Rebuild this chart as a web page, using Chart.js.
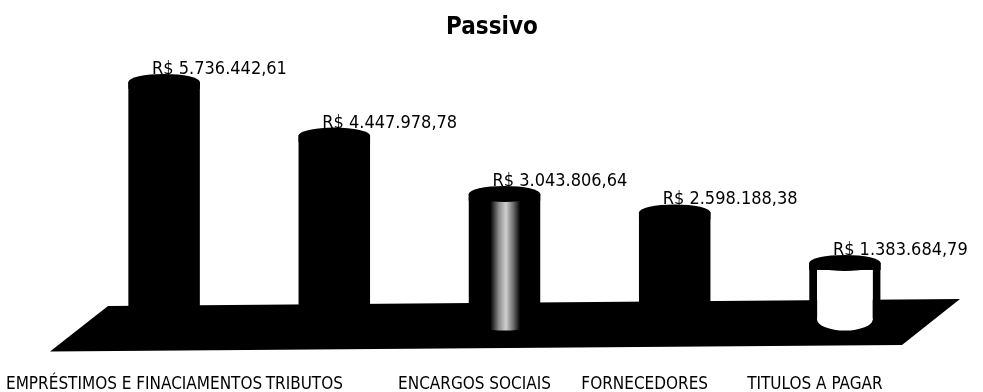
<!DOCTYPE html>
<html lang="pt-BR">
<head>
<meta charset="utf-8">
<title>Passivo</title>
<script src="https://cdn.jsdelivr.net/npm/chart.js@4.4.1/dist/chart.umd.min.js"></script>
<style>
  html, body { margin: 0; padding: 0; background: #fff; }
  #wrap { width: 983px; height: 392px; }
</style>
</head>
<body>
<div id="wrap"><canvas id="passivoChart"></canvas></div>
<script>
// Contas do passivo
const categorias = ["EMPRÉSTIMOS E FINACIAMENTOS", "TRIBUTOS", "ENCARGOS SOCIAIS", "FORNECEDORES", "TITULOS A PAGAR"];
const valores = [5736442.61, 4447978.78, 3043806.64, 2598188.38, 1383684.79];

const FONTE = "'Liberation Sans Narrow', 'DejaVu Sans Condensed', 'Liberation Sans', sans-serif";
const LARGURA_BARRA = 0.42;

// Formata no padrão R$ 1.234.567,89
function formatarReal(v) {
  const [inteiro, centavos] = v.toFixed(2).split(".");
  return "R$ " + inteiro.replace(/\B(?=(\d{3})+(?!\d))/g, ".") + "," + centavos;
}

// Preenchimento de cada cilindro: preto, com brilho no terceiro e branco no último
function corBarra(context) {
  const i = context.dataIndex;
  if (i === 4) return "#ffffff";
  if (i === 2) {
    const x = context.chart.scales.x;
    if (!x || !x.width) return "#000";
    const cx = x.getPixelForValue(i);
    const meia = (x.width / categorias.length) * LARGURA_BARRA / 2;
    const g = context.chart.ctx.createLinearGradient(cx - meia, 0, cx + meia, 0);
    g.addColorStop(0, "#000");
    g.addColorStop(0.3, "#000");
    g.addColorStop(0.42, "#8a8a8a");
    g.addColorStop(0.52, "#d0d0d0");
    g.addColorStop(0.63, "#666");
    g.addColorStop(0.72, "#000");
    g.addColorStop(1, "#000");
    return g;
  }
  return "#000";
}

// Piso em perspectiva, tampas elípticas, rótulos de valor e título
const cilindros = {
  id: "cilindros",
  beforeDatasetsDraw(chart) {
    const { ctx, chartArea: a, scales: { y } } = chart;
    const y0 = y.getPixelForValue(0);
    ctx.save();
    ctx.fillStyle = "#000";
    ctx.beginPath();
    ctx.moveTo(a.left + 29, y0 - 14.5);
    ctx.lineTo(a.right + 30, y0 - 21.5);
    ctx.lineTo(a.right - 28, y0 + 24.5);
    ctx.lineTo(a.left - 29, y0 + 31);
    ctx.closePath();
    ctx.fill();
    ctx.restore();
  },
  afterDatasetsDraw(chart) {
    const { ctx } = chart;
    const meta = chart.getDatasetMeta(0);
    ctx.save();
    meta.data.forEach((bar, i) => {
      const r = bar.width / 2;
      const ry = 8;
      // base arredondada
      ctx.fillStyle = bar.options.backgroundColor;
      ctx.beginPath();
      const rb = i === 4 ? r - 8 : r;
      ctx.ellipse(bar.x, bar.base - 1, rb, ry + 3, 0, 0, Math.PI * 2);
      ctx.fill();
      // tampa
      ctx.fillStyle = "#000";
      ctx.beginPath();
      ctx.ellipse(bar.x, bar.y, r, ry, 0, 0, Math.PI * 2);
      ctx.fill();
      ctx.fillRect(bar.x - r, bar.y, bar.width, 7);
    });
    // valores acima de cada cilindro
    ctx.fillStyle = "#000";
    ctx.font = "18px " + FONTE;
    ctx.textAlign = "left";
    ctx.textBaseline = "alphabetic";
    meta.data.forEach((bar, i) => {
      ctx.fillText(formatarReal(valores[i]), bar.x - 12, bar.y - 8);
    });
    ctx.restore();
  },
  afterDraw(chart) {
    const { ctx } = chart;
    ctx.save();
    ctx.fillStyle = "#000";
    ctx.font = "bold 24px " + FONTE;
    ctx.textAlign = "center";
    ctx.textBaseline = "alphabetic";
    ctx.fillText("Passivo", 492, 34);
    ctx.restore();
  }
};

const config = {
  type: "bar",
  data: {
    labels: categorias,
    datasets: [
      {
        label: "Passivo",
        data: valores,
        backgroundColor: corBarra,
        borderColor: "#000",
        borderWidth: (c) => (c.dataIndex === 4 ? { left: 8, right: 8, top: 0, bottom: 0 } : 0),
        borderSkipped: "start",
        barPercentage: LARGURA_BARRA,
        categoryPercentage: 1,
      },
    ],
  },
  options: {
    responsive: true,
    maintainAspectRatio: false,
    animation: false,
    events: [],
    layout: { padding: { top: 60, left: 79, right: 53, bottom: 0 } },
    plugins: {
      legend: { display: false },
      title: { display: false },
      tooltip: { enabled: false },
    },
    scales: {
      x: {
        grid: { display: false, drawTicks: false },
        border: { display: false },
        ticks: {
          autoSkip: false,
          maxRotation: 0,
          minRotation: 0,
          labelOffset: -30,
          padding: 2,
          color: "#000",
          font: { family: FONTE, size: 17 },
        },
        afterFit(scale) {
          scale.height = 20;
          scale.paddingLeft = 0;
          scale.paddingRight = 0;
        },
      },
      y: {
        display: false,
        min: -1238575,
        max: 6265000,
      },
    },
  },
  plugins: [cilindros],
};

document.addEventListener("DOMContentLoaded", () => {
  new Chart(document.getElementById("passivoChart"), config);
});
</script>
</body>
</html>
